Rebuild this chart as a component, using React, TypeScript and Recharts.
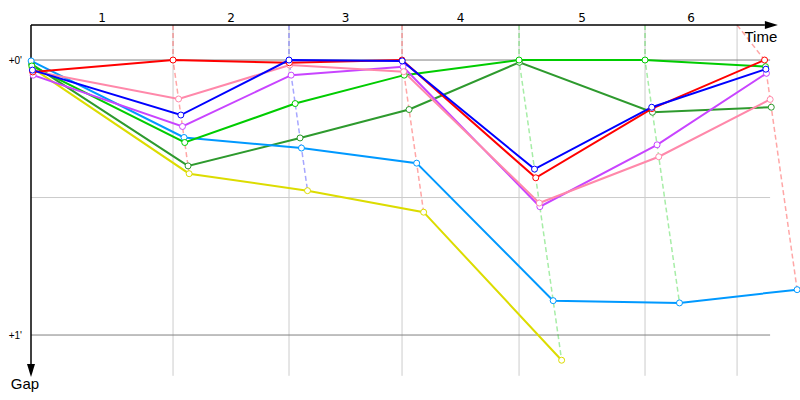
import React from "react";
import { LineChart, Line, XAxis, YAxis, ReferenceLine } from "recharts";

// lap numbers shown above the chart
const lapLabels = ["1", "2", "3", "4", "5", "6"];
// time (s) at which the leader crossed the line, lap 0 = start
const leaderTimes = [0, 218.5, 396.9, 570.8, 750.8, 944.6, 1128.5];
// lap boundaries on the time axis (vertical grid)
const gridTimes = [0, 218.5, 396.9, 570.8, 750.8, 944.6, 1086.2];

// gap to the leader in seconds, per lap (lap 0 = start)
const redGaps = [2.6, 0, 0.6, 0, 25.7, 10.6, 0];
const blueGaps = [2.2, 12.0, 0, 0.2, 23.8, 10.3, 2.0];
const pinkGaps = [2.4, 8.5, 1.1, 2.55, 31.2, 21.1, 8.6];
const purpleGaps = [3.3, 14.5, 3.3, 1.46, 32.0, 18.5, 2.9];
const cyanGaps = [0.2, 16.9, 19.2, 22.5, 52.5, 53.0, 50.1];
const greenGaps = [1.3, 18.0, 9.5, 3.3, 0, 0, 1.45];
const darkGreenGaps = [0.9, 23.1, 17.0, 10.8, 0.5, 11.4, 10.3];
const yellowGaps = [1.7, 24.8, 28.5, 33.2, 65.5];

const gapTicks = [0, 60];

const drivers = [
  { gaps: yellowGaps, color: "#dcdc00" },
  { gaps: darkGreenGaps, color: "#2e9a2e" },
  { gaps: cyanGaps, color: "#0099ff" },
  { gaps: greenGaps, color: "#00cc00" },
  { gaps: purpleGaps, color: "#c844ff" },
  { gaps: pinkGaps, color: "#ff88aa" },
  { gaps: redGaps, color: "#ff0000" },
  { gaps: blueGaps, color: "#0000ff" },
];

const Y_MIN = -7.64;
const Y_MAX = 69.16;
const X_MAX = 1183;

const series = drivers.map((d) => ({
  color: d.color,
  data: d.gaps.map((g, i) => ({ t: leaderTimes[i] + g, g })),
}));

// dashed line for every lap, in the leader's colour
const lapLines = lapLabels.map((_, k) => {
  const lap = k + 1;
  const present = drivers.filter((d) => d.gaps[lap] !== undefined);
  const leader = present.reduce((a, b) => (b.gaps[lap] < a.gaps[lap] ? b : a));
  const last = Math.max(...present.map((d) => d.gaps[lap]));
  return {
    color: leader.color,
    data: [
      { t: gridTimes[lap], g: Y_MIN },
      { t: leaderTimes[lap], g: 0 },
      { t: leaderTimes[lap] + last, g: last },
    ],
  };
});

const lapMids = lapLabels.map((_, i) => (gridTimes[i] + gridTimes[i + 1]) / 2);

const ArrowAxis = (p: any) => {
  const { x1, y1, x2, y2, label, lx, ly } = p;
  const len = Math.hypot(x2 - x1, y2 - y1) || 1;
  const ux = (x2 - x1) / len;
  const uy = (y2 - y1) / len;
  const bx = x2 - ux * 13;
  const by = y2 - uy * 13;
  const pts = `${x2},${y2} ${bx - uy * 4},${by + ux * 4} ${bx + uy * 4},${by - ux * 4}`;
  return (
    <g>
      <line x1={x1} y1={y1} x2={bx} y2={by} stroke="#000" strokeWidth={1.5} />
      <polygon points={pts} fill="#000" />
      <text
        x={x2 + lx}
        y={y2 + ly}
        textAnchor="middle"
        fontFamily="Liberation Sans, Arial, sans-serif"
        fontSize={15}
        fill="#000"
      >
        {label}
      </text>
    </g>
  );
};

export default function App() {
  return (
    <div style={{ position: "absolute", left: 0, top: 0 }}>
      <LineChart
        width={800}
        height={400}
        margin={{ top: 0, right: 0, bottom: 23, left: 0 }}
      >
        <XAxis
          type="number"
          dataKey="t"
          domain={[0, X_MAX]}
          orientation="top"
          height={25}
          ticks={lapMids}
          tickFormatter={(_v: number, i: number) => lapLabels[i]}
          axisLine={false}
          tickLine={false}
          tickSize={0}
          tickMargin={3}
          interval={0}
          tick={{ fill: "#000", fontSize: 12, fontFamily: "DejaVu Sans, sans-serif" }}
        />
        <YAxis
          type="number"
          dataKey="g"
          domain={[Y_MIN, Y_MAX]}
          reversed
          width={31}
          ticks={gapTicks}
          tickFormatter={(v: number) => `+${v / 60}'`}
          axisLine={false}
          tickLine={false}
          tickSize={0}
          tickMargin={9}
          interval={0}
          tick={{ fill: "#000", fontSize: 10, fontFamily: "Liberation Sans, Arial, sans-serif" }}
        />

        {gridTimes.slice(1).map((t) => (
          <ReferenceLine
            key={`v${t}`}
            segment={[{ x: t, y: Y_MIN }, { x: t, y: 68.9 }]}
            stroke="#cccccc"
            strokeWidth={1}
          />
        ))}
        <ReferenceLine
          segment={[{ x: 0, y: 30 }, { x: 1137, y: 30 }]}
          stroke="#cccccc"
          strokeWidth={1}
        />
        {gapTicks.map((g) => (
          <ReferenceLine
            key={`h${g}`}
            segment={[{ x: 0, y: g }, { x: 1137, y: g }]}
            stroke="#808080"
            strokeWidth={1}
          />
        ))}

        {lapLines.map((l, i) => (
          <Line
            key={`lap${i}`}
            data={l.data}
            dataKey="g"
            type="linear"
            stroke={l.color}
            strokeOpacity={0.35}
            strokeWidth={1.5}
            strokeDasharray="5 3"
            dot={false}
            activeDot={false}
            isAnimationActive={false}
          />
        ))}

        {series.map((s, i) => (
          <Line
            key={`d${i}`}
            data={s.data}
            dataKey="g"
            type="linear"
            stroke={s.color}
            strokeWidth={2}
            dot={{ r: 3, fill: "#fff", strokeWidth: 1 }}
            activeDot={false}
            isAnimationActive={false}
          />
        ))}

        <ReferenceLine
          segment={[{ x: 0, y: Y_MIN }, { x: 1149, y: Y_MIN }]}
          shape={(p: any) => <ArrowAxis {...p} label="Time" lx={-17} ly={17} />}
        />
        <ReferenceLine
          segment={[{ x: 0, y: Y_MIN }, { x: 0, y: Y_MAX }]}
          shape={(p: any) => <ArrowAxis {...p} label="Gap" lx={-6} ly={12} />}
        />
      </LineChart>
    </div>
  );
}
